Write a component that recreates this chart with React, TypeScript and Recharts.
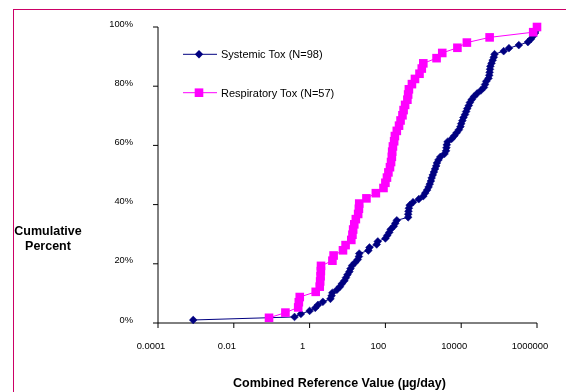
import React from 'react';
import { LineChart, Line, XAxis, YAxis, Legend, Label } from 'recharts';

const FONT = '"Liberation Sans", Arial, Helvetica, sans-serif';

const xTicks = [0.0001, 0.01, 1, 100, 10000, 1000000];
const yTicks = [0, 20, 40, 60, 80, 100];

const systemicName = 'Systemic Tox (N=98)';
const respiratoryName = 'Respiratory Tox (N=57)';
const legendOrder = [systemicName, respiratoryName];

// sorted reference values (µg/day)
const systemicValues = [
  0.00085, 0.4, 0.59, 1.0, 1.41, 1.66, 2.24, 3.55, 3.8, 3.98,
  5.25, 6.3, 7.1, 8.3, 9.1, 10, 11.2, 12, 13.2, 15.8,
  18.6, 20, 20.4, 35.5, 38, 59, 63, 100, 112, 126,
  138, 166, 182, 200, 398, 400, 407, 417, 437, 537,
  759, 1000, 1122, 1259, 1380, 1479, 1585, 1660, 1778, 1905,
  2042, 2188, 2291, 2512, 2818, 3631, 3981, 4074, 4169, 4365,
  5623, 6607, 7586, 8710, 9550, 10000, 10715, 11482, 12589, 13490,
  14454, 15849, 16982, 19055, 21878, 26303, 33113, 39811, 42658, 45709,
  52481, 54954, 56234, 57544, 58884, 63096, 67608, 72444, 75858, 131826,
  181970, 331131, 575440, 691831, 794328, 891251, 954993, 1000000,
];

const respiratoryValues = [
  0.085, 0.23, 0.5, 0.52, 0.55, 1.45, 1.85, 1.9, 1.95, 1.98,
  2.0, 4.0, 4.3, 7.6, 8.9, 12.6, 13.5, 14.1, 15.1, 16.6,
  19.1, 20, 20.4, 31.6, 56, 89, 100, 110, 120, 132,
  141, 148, 151, 158, 170, 178, 200, 229, 251, 282,
  302, 331, 380, 398, 417, 501, 603, 794, 912, 1000,
  2239, 3162, 7943, 14125, 56234, 794328, 1000000,
];

// empirical cumulative percent of each sorted value
const toCumulative = (values: number[]) =>
  values.map((x, i) => ({ x, pct: ((i + 1) / values.length) * 100 }));

const systemicData = toCumulative(systemicValues);
const respiratoryData = toCumulative(respiratoryValues);

const NAVY = '#000080';
const MAGENTA = '#FF00FF';

const DiamondDot = (props: any) => {
  const { cx, cy, index } = props;
  if (cx == null || cy == null) return null;
  const r = 3.9;
  return (
    <polygon
      key={`sd-${index}`}
      points={`${cx},${cy - r} ${cx + r},${cy} ${cx},${cy + r} ${cx - r},${cy}`}
      fill={NAVY}
      stroke={NAVY}
      strokeWidth={0.5}
    />
  );
};

const SquareDot = (props: any) => {
  const { cx, cy, index } = props;
  if (cx == null || cy == null) return null;
  const s = 8.6;
  return <rect key={`rd-${index}`} x={cx - s / 2} y={cy - s / 2} width={s} height={s} fill={MAGENTA} />;
};

const XTick = (props: any) => {
  const { x, y, payload } = props;
  return (
    <text x={x} y={y} dx={-7} dy={18.7} textAnchor="middle" fontSize={9.4} fontFamily={FONT} fill="#000">
      {String(payload.value)}
    </text>
  );
};

const YTick = (props: any) => {
  const { x, y, payload } = props;
  return (
    <text x={x} y={y} dy={-0.5} textAnchor="end" fontSize={9.3} fontFamily={FONT} fill="#000">
      {`${payload.value}%`}
    </text>
  );
};

const XTitle = () => (
  <text x={339.5} y={387} textAnchor="middle" fontSize={12.5} fontWeight="bold" fontFamily={FONT} fill="#000">
    Combined Reference Value (µg/day)
  </text>
);

const YTitle = () => (
  <text textAnchor="middle" fontSize={12.5} fontWeight="bold" fontFamily={FONT} fill="#000">
    <tspan x={48} y={234.5}>Cumulative</tspan>
    <tspan x={48} y={249.5}>Percent</tspan>
  </text>
);

const renderLegend = (props: any) => {
  const payload = [...(props.payload || [])].sort(
    (a: any, b: any) => legendOrder.indexOf(a.value) - legendOrder.indexOf(b.value)
  );
  return (
    <svg width={220} height={62} style={{ display: 'block', overflow: 'visible' }}>
      {payload.map((entry: any, i: number) => {
        const cy = 10.3 + i * 38.4;
        const isSys = entry.value === systemicName;
        const color = isSys ? NAVY : MAGENTA;
        return (
          <g key={entry.value}>
            <line x1={0} y1={cy} x2={34} y2={cy} stroke={color} strokeWidth={1} />
            {isSys ? (
              <polygon points={`16,${cy - 4.2} 20.2,${cy} 16,${cy + 4.2} 11.8,${cy}`} fill={NAVY} />
            ) : (
              <rect x={11.7} y={cy - 4.3} width={8.6} height={8.6} fill={MAGENTA} />
            )}
            <text x={38} y={cy + 3.9} fontSize={11} fontFamily={FONT} fill="#000">
              {entry.value}
            </text>
          </g>
        );
      })}
    </svg>
  );
};

export default function App() {
  return (
    <>
      <div
        style={{
          position: 'fixed',
          left: 13,
          top: 9,
          width: 620,
          height: 420,
          borderLeft: '1px solid #cc0066',
          borderTop: '1px solid #cc0066',
          boxSizing: 'border-box',
        }}
      />
      <div style={{ position: 'fixed', left: 0, top: 0, width: 566, height: 392 }}>
        <LineChart width={566} height={392} margin={{ top: 27, right: 29, bottom: 0, left: 0 }}>
          <XAxis
            type="number"
            dataKey="x"
            scale="log"
            domain={[0.0001, 1000000]}
            ticks={xTicks}
            interval={0}
            height={69}
            tickSize={5}
            tickMargin={2}
            stroke="#000"
            tick={<XTick />}
          >
            <Label content={<XTitle />} />
          </XAxis>
          <YAxis
            type="number"
            dataKey="pct"
            domain={[0, 100]}
            ticks={yTicks}
            interval={0}
            width={158}
            tickSize={5}
            tickMargin={20}
            stroke="#000"
            tick={<YTick />}
          >
            <Label content={<YTitle />} />
          </YAxis>
          <Legend
            layout="vertical"
            align="center"
            verticalAlign="middle"
            content={renderLegend}
            wrapperStyle={{ position: 'absolute', left: 183, top: 44, width: 220, height: 62 }}
          />
          <Line
            name={systemicName}
            data={systemicData}
            dataKey="pct"
            type="linear"
            stroke={NAVY}
            strokeWidth={1}
            dot={DiamondDot}
            activeDot={false}
            isAnimationActive={false}
          />
          <Line
            name={respiratoryName}
            data={respiratoryData}
            dataKey="pct"
            type="linear"
            stroke={MAGENTA}
            strokeWidth={1}
            dot={SquareDot}
            activeDot={false}
            isAnimationActive={false}
          />
        </LineChart>
      </div>
    </>
  );
}
